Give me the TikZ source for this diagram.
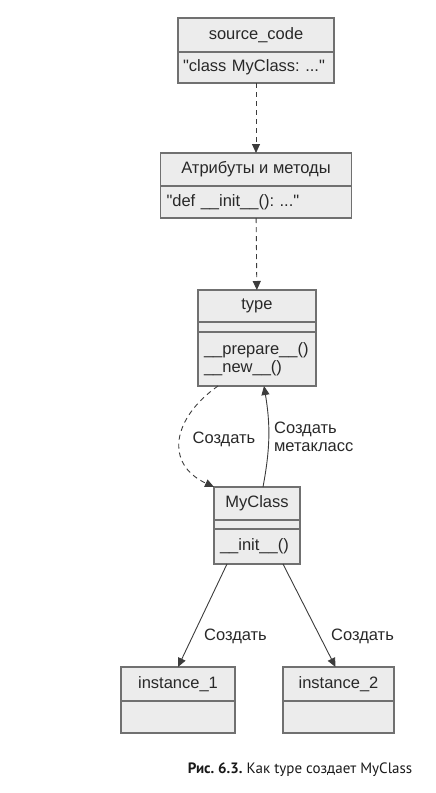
\documentclass[tikz,border=0pt]{standalone}
\usepackage{fontspec}
\setmainfont{Liberation Sans}
\newfontfamily\capfont{PT Sans}
\usetikzlibrary{positioning, arrows.meta}
\definecolor{boxFill}{RGB}{236, 236, 236}
\definecolor{boxLine}{RGB}{112, 112, 112}
\definecolor{arrowGray}{RGB}{60, 60, 60}
\definecolor{textGray}{RGB}{40, 40, 40}
\newcommand{\qmark}{\textquotedbl}
\frenchspacing

\begin{document}
\begin{tikzpicture}[x=1pt, y=1pt,
        part/.style={draw=boxLine, fill=boxFill, line width=1.2pt, inner sep=0pt, outer sep=0pt,
            text=textGray, font=\fontsize{16.5}{18}\selectfont},
        head/.style={part},
        body/.style={part, inner xsep=6pt, align=left},
        link/.style={arrowGray, line width=0.9pt, -{Triangle[length=9pt, width=8pt]}},
        dep/.style={link, dash pattern=on 5pt off 4pt},
        lbl/.style={text=textGray, inner sep=2pt, font=\fontsize{16.5}{18}\selectfont, align=left}]
        \useasboundingbox (0,0) rectangle (436,-793);
        % source code
        \node[head, minimum width=156pt, minimum height=34pt] (src) at (256,-35) {source\_code};
        \node[body, text width=146pt, inner xsep=5pt, minimum height=31pt, below=0pt of src] (srcb) {\qmark class MyClass: ...\qmark};
        % attributes and methods
        \node[head, minimum width=191pt, minimum height=33pt] (attr) at (256,-169.5) {Атрибуты и методы};
        \node[body, text width=179pt, minimum height=32pt, below=0pt of attr] (attrb) {\qmark def \_\_init\_\_(): ...\qmark};
        % metaclass type
        \node[head, minimum width=118pt, minimum height=32pt] (type) at (257,-306) {type};
        \node[part, minimum width=118pt, minimum height=10pt, below=0pt of type] (typeg) {};
        \node[body, text width=106pt, minimum height=54pt, below=0pt of typeg] (typeb) {\_\_prepare\_\_()\\\_\_new\_\_()};
        % class
        \node[head, minimum width=86pt, minimum height=33pt] (myc) at (257,-503.5) {MyClass};
        \node[part, minimum width=86pt, minimum height=9pt, below=0pt of myc] (mycg) {};
        \node[body, text width=74pt, minimum height=35pt, below=0pt of mycg] (mycb) {\_\_init\_\_()};
        % instances
        \node[head, minimum width=114pt, minimum height=34pt] (inst1) at (178,-684) {instance\_1};
        \node[part, minimum width=114pt, minimum height=32pt, below=0pt of inst1] (inst1b) {};
        \node[head, minimum width=111pt, minimum height=34pt] (inst2) at (338.5,-684) {instance\_2};
        \node[part, minimum width=111pt, minimum height=32pt, below=0pt of inst2] (inst2b) {};

        \draw[dep] (srcb) -- (attr);
        \draw[dep] (attrb) -- (type);
        \draw[dep] ([xshift=20pt]typeb.south west) to[out=215, in=155, looseness=1.4]
            node[lbl, pos=0.5, right=10pt] {Создать} (myc.north west);
        \draw[link] ([xshift=6pt]myc.north) to[bend right=10]
            node[lbl, midway, right=3pt] {Создать\\метакласс} ([xshift=7pt]typeb.south);
        \draw[link] ([xshift=13pt]mycb.south west) -- node[lbl, pos=0.7, right=9pt] {Создать} (inst1.north);
        \draw[link] ([xshift=-17pt]mycb.south east) -- node[lbl, pos=0.7, right=9pt] {Создать} ([xshift=-3pt]inst2.north);

        \node[text=black!90, font=\capfont\fontsize{15}{18}\selectfont] (caption) at (300,-770)
            {\textbf{Рис. 6.3.} Как type создает MyClass};
\end{tikzpicture}
\end{document}
